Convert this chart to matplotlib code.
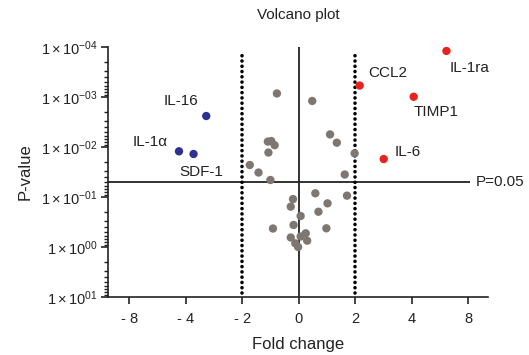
import numpy as np
import matplotlib
matplotlib.use('Agg')
import matplotlib.pyplot as plt
from matplotlib.ticker import FixedLocator, LogLocator, NullFormatter

plt.rcParams['font.family'] = ['Liberation Sans', 'DejaVu Sans']
plt.rcParams['mathtext.fontset'] = 'custom'
plt.rcParams['mathtext.rm'] = 'Liberation Sans'
plt.rcParams['mathtext.it'] = 'Liberation Sans:italic'
plt.rcParams['mathtext.bf'] = 'Liberation Sans:bold'

# non-significant proteins
gray_fc = [-0.77, 0.48, -1.09, -0.97, -0.85, -1.07, -1.73, -1.42, -1.00, 1.11, 1.35, 1.98, 1.63,
           0.59, 1.71, -0.20, -0.28, 1.02, 0.70, 0.07, -0.91, -0.18, 0.98, 0.25, 0.07, -0.28,
           0.30, -0.12, -0.02]
gray_p = [8.5e-4, 1.2e-3, 7.8e-3, 7.6e-3, 9.2e-3, 0.0129, 0.0229, 0.0324, 0.0457, 5.6e-3, 8.2e-3,
          0.0134, 0.0355, 0.0843, 0.094, 0.110, 0.156, 0.134, 0.197, 0.24, 0.427, 0.363, 0.423,
          0.532, 0.617, 0.646, 0.748, 0.843, 1.0]

# down-regulated
down_names = ['IL-16', 'IL-1α', 'SDF-1']
down_fc = [-3.27, -4.47, -3.72]
down_p = [0.0024, 0.0122, 0.0138]

# up-regulated
up_names = ['IL-1ra', 'CCL2', 'TIMP1', 'IL-6']
up_fc = [6.46, 2.16, 4.14, 3.01]
up_p = [1.2e-4, 5.9e-4, 9.9e-4, 0.0174]

x_ticks = [-8, -4, -2, 0, 2, 4, 8]
x_ticklabels = ['- 8', '- 4', '- 2', '0', '2', '4', '8']
y_ticks = [1e-4, 1e-3, 1e-2, 1e-1, 1e0, 1e1]
y_ticklabels = [r'$1\times10^{-04}$', r'$1\times10^{-03}$', r'$1\times10^{-02}$',
                r'$1\times10^{-01}$', r'$1\times10^{00}$', r'$1\times10^{01}$']

# segmented x axis: -8,-4,-2,0,2,4,8 equally spaced
fc_knots = [-100, -8, -4, -2, 0, 2, 4, 8, 100]
u_knots = [-26, -3, -2, -1, 0, 1, 2, 3, 26]


def fwd(x):
    return np.interp(x, fc_knots, u_knots)


def inv(u):
    return np.interp(u, u_knots, fc_knots)


fig = plt.figure(figsize=(5.29, 3.55), dpi=100)
ax = fig.add_axes([0.204, 0.1634, 0.7185, 0.7042])
ax.set_xscale('function', functions=(fwd, inv))
ax.set_yscale('log')
ax.set_xlim(-9.5, 9.4)
ax.set_ylim(10, 1e-4)

gray = '#7e7670'
blue = '#2e3190'
red = '#e8221d'

# threshold lines
ax.axvline(0, color='#222222', lw=1.3, zorder=2)
ax.hlines(0.05, -9.5, 8.1, color='#222222', lw=1.3, zorder=2, clip_on=False)
for xv in (-2, 2):
    ax.axvline(xv, ymin=0.015, ymax=0.98, color='black', lw=2.6, ls=(0, (0.01, 1.45)),
               dash_capstyle='round', zorder=2)
ax.text(8.5, 0.05, 'P=0.05', fontsize=11, va='center', ha='left', color='#222222')

ax.scatter(gray_fc, gray_p, s=36, color=gray, edgecolors='none', zorder=3)
ax.scatter(down_fc, down_p, s=36, color=blue, edgecolors='none', zorder=3)
ax.scatter(up_fc, up_p, s=36, color=red, edgecolors='none', zorder=3)

down_off = [(-18, 11), (-21, 7), (5.5, -12.7)]
up_off = [(16.8, -12.5), (20.4, 8.9), (16.3, -10.8), (17.5, 4.8)]
for name, x, y, off in zip(down_names + up_names, down_fc + up_fc, down_p + up_p, down_off + up_off):
    ax.annotate(name, (x, y), xytext=off, textcoords='offset points', ha='center', va='center',
                fontsize=11, color='#222222')

ax.xaxis.set_major_locator(FixedLocator(x_ticks))
ax.set_xticklabels(x_ticklabels)
ax.xaxis.set_minor_locator(FixedLocator([]))
ax.yaxis.set_major_locator(FixedLocator(y_ticks))
ax.set_yticklabels(y_ticklabels)
ax.yaxis.set_minor_locator(LogLocator(base=10, subs=np.arange(2, 10)))
ax.yaxis.set_minor_formatter(NullFormatter())

ax.tick_params(axis='x', which='major', length=5, width=1.2, labelsize=10.5, pad=6, colors='#222222')
ax.tick_params(axis='y', which='major', length=5, width=1.2, labelsize=10.5, pad=2, colors='#222222')
ax.tick_params(axis='y', which='minor', length=3, width=1.0, colors='#222222')

for s in ('top', 'right'):
    ax.spines[s].set_visible(False)
for s in ('left', 'bottom'):
    ax.spines[s].set_linewidth(1.2)
    ax.spines[s].set_color('#222222')

ax.set_xlabel('Fold change', fontsize=12, color='#222222', labelpad=8)
ax.set_ylabel('P-value', fontsize=12, color='#222222', labelpad=6)
ax.set_title('Volcano plot', fontsize=11, color='#222222', pad=20)

fig.savefig('out.png', dpi=100)
